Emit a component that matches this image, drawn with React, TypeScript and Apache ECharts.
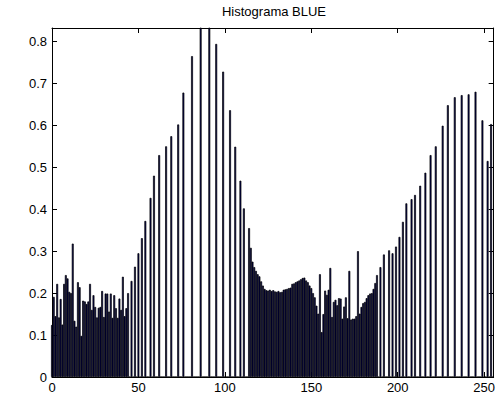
import React, { useEffect, useRef } from "react";
import * as echarts from "echarts";

// Histogram bin values (bins 0..255); values above the axis top are clipped in the picture
const binValues: number[] = [
  0.124, 0.191, 0.145, 0.222, 0.142, 0.186, 0.125, 0.222, 0.243, 0.235,
  0.203, 0.2, 0.318, 0.134, 0.12, 0.226, 0.214, 0.098, 0.182, 0.18,
  0.174, 0.18, 0.222, 0.16, 0.195, 0.167, 0.142, 0.165, 0.167, 0.205,
  0.143, 0.199, 0.199, 0.156, 0.199, 0.141, 0.195, 0.164, 0.141, 0.187,
  0.16, 0.239, 0.145, 0.164, 0.2, 0, 0.229, 0, 0.263, 0,
  0.295, 0, 0.331, 0, 0.372, 0, 0, 0.427, 0, 0.48,
  0, 0, 0.529, 0, 0, 0, 0.55, 0, 0, 0.574,
  0, 0, 0, 0.602, 0, 0, 0.678, 0, 0, 0,
  0, 0.765, 0, 0, 0, 0, 0.9, 0, 0, 0,
  0, 0.88, 0, 0, 0, 0.794, 0, 0, 0, 0.728,
  0, 0, 0, 0.636, 0, 0, 0.549, 0, 0, 0.468,
  0, 0.402, 0, 0, 0.355, 0.308, 0.275, 0.262, 0.253, 0.245,
  0.24, 0.228, 0.218, 0.21, 0.207, 0.206, 0.208, 0.205, 0.207, 0.204,
  0.203, 0.205, 0.202, 0.203, 0.208, 0.209, 0.21, 0.212, 0.213, 0.222,
  0.223, 0.226, 0.228, 0.23, 0.233, 0.236, 0.237, 0.23, 0.226, 0.218,
  0.212, 0.2, 0.19, 0.17, 0.151, 0.245, 0.107, 0.15, 0.206, 0.196,
  0.208, 0.26, 0.143, 0.179, 0.184, 0.171, 0.188, 0.187, 0.139, 0.168,
  0.19, 0.14, 0.253, 0.137, 0.139, 0.139, 0.145, 0.3, 0.151, 0.167,
  0.176, 0.179, 0.188, 0.195, 0.199, 0.2, 0.21, 0.224, 0.243, 0,
  0.262, 0, 0.292, 0, 0, 0.302, 0, 0.295, 0, 0.311,
  0, 0.334, 0, 0.37, 0, 0.414, 0, 0, 0.424, 0,
  0.434, 0, 0, 0.456, 0, 0, 0.487, 0, 0, 0.529,
  0, 0, 0.55, 0, 0, 0, 0.599, 0, 0, 0.648,
  0, 0, 0, 0.667, 0, 0, 0, 0.672, 0, 0,
  0, 0.674, 0, 0, 0, 0.68, 0, 0, 0, 0.612,
  0, 0, 0.515, 0, 0.603, 0,
];

const titleText = "Histograma BLUE";
const xMin = 0;
const xMax = 255.5;
const xInterval = 50;
const xTickValues = [0, 50, 100, 150, 200, 250];
const yMin = 0;
const yMax = 0.832;
const yInterval = 0.1;
const yTickValues = [0, 0.1, 0.2, 0.3, 0.4, 0.5, 0.6, 0.7, 0.8];

const FONT = "'Liberation Sans', Arial, Helvetica, sans-serif";

export default function App() {
  const ref = useRef<HTMLDivElement>(null);

  useEffect(() => {
    if (!ref.current) return;
    const chart = echarts.init(ref.current, undefined, { renderer: "svg" });

    const axisLine = { show: true, onZero: false, lineStyle: { color: "#000", width: 1 } };
    const tickStyle = { color: "#000", width: 1 };
    const xTick = { show: true, inside: true, length: 5, customValues: xTickValues, lineStyle: tickStyle };
    const yTick = { show: true, inside: true, length: 5, customValues: yTickValues, lineStyle: tickStyle };
    const labelFont = { fontFamily: FONT, fontSize: 13, color: "#000" };

    chart.setOption({
      animation: false,
      backgroundColor: "#fff",
      title: {
        text: titleText,
        left: 274,
        top: 5,
        padding: 0,
        textAlign: "center",
        textStyle: {
          fontFamily: FONT,
          fontSize: 13,
          fontWeight: "normal",
          color: "#000",
        },
      },
      grid: { left: 52, right: 1, top: 28, bottom: 21, containLabel: false },
      xAxis: [
        {
          type: "value",
          position: "bottom",
          min: xMin,
          max: xMax,
          interval: xInterval,
          axisLine,
          axisTick: xTick,
          splitLine: { show: false },
          axisLabel: {
            margin: 4,
            ...labelFont,
            customValues: xTickValues,
            formatter: (v: number) => String(v),
          },
        },
        {
          type: "value",
          position: "top",
          min: xMin,
          max: xMax,
          interval: xInterval,
          axisLine,
          axisTick: xTick,
          splitLine: { show: false },
          axisLabel: { show: false },
        },
      ],
      yAxis: [
        {
          type: "value",
          position: "left",
          min: yMin,
          max: yMax,
          interval: yInterval,
          axisLine,
          axisTick: yTick,
          splitLine: { show: false },
          axisLabel: {
            margin: 5,
            ...labelFont,
            customValues: yTickValues,
            formatter: (v: number) => (v === 0 ? "0" : v.toFixed(1)),
          },
        },
        {
          type: "value",
          position: "right",
          min: yMin,
          max: yMax,
          interval: yInterval,
          axisLine,
          axisTick: yTick,
          splitLine: { show: false },
          axisLabel: { show: false },
        },
      ],
      series: [
        {
          type: "bar",
          xAxisIndex: 0,
          yAxisIndex: 0,
          data: binValues.map((v, i) => [i, v]),
          barWidth: 1.9,
          clip: true,
          itemStyle: {
            color: "#000050",
            borderColor: "#000",
            borderWidth: 0.7,
          },
          emphasis: { disabled: true },
        },
      ],
    });

    return () => chart.dispose();
  }, []);

  return (
    <div
      ref={ref}
      style={{ position: "fixed", left: 0, top: 0, width: 498, height: 398 }}
    />
  );
}
